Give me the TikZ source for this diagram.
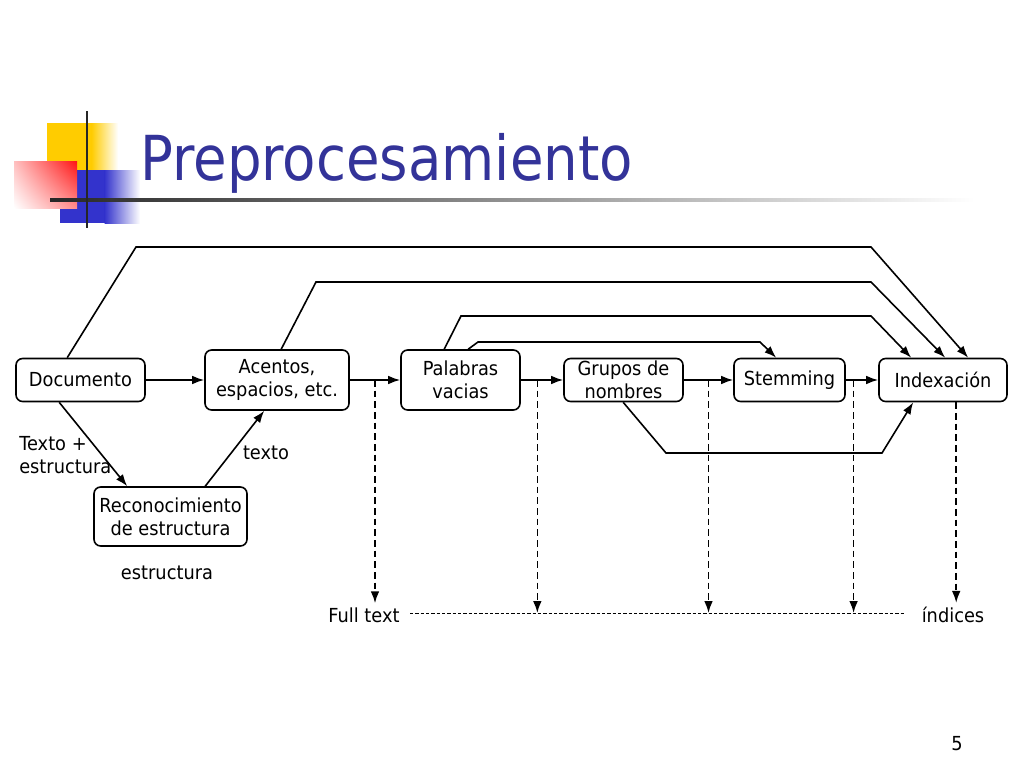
\documentclass[tikz,border=0pt]{standalone}
\usepackage{fontspec}
\setmainfont[FakeStretch=0.92]{DejaVu Sans}
\newfontfamily\titlefont[FakeStretch=0.88]{DejaVu Sans}
\usetikzlibrary{arrows.meta,calc,shadings}
\definecolor{titleblue}{RGB}{51,51,153}
\definecolor{logoyellow}{RGB}{255,204,0}
\definecolor{logoblue}{RGB}{51,51,204}
\definecolor{logored}{RGB}{255,20,20}
\begin{document}
\begin{tikzpicture}[x=0.75pt,y=-0.75pt,
  box/.style={draw,rounded corners=5pt,line width=1.2pt,align=center,
    font=\fontsize{14.5}{17}\selectfont,inner sep=0pt},
  conn/.style={line width=1.2pt,-{Latex[length=9pt,width=6.5pt]}},
  dashconn/.style={line width=1.2pt,dash pattern=on 5pt off 3pt,-{Latex[length=9pt,width=6.5pt]}},
  dotline/.style={line width=0.75pt,dash pattern=on 2.5pt off 1.5pt},
  lbl/.style={font=\fontsize{14.5}{17}\selectfont,align=left,inner sep=0pt}
]
\useasboundingbox (0,0) rectangle (1024,768);
\fill[white] (0,0) rectangle (1024,768);

% logo
\fill[logoyellow] (47,123) rectangle (92,170);
\shade[left color=logoyellow,right color=white] (91.5,123) rectangle (118,170);
\fill[logoblue] (60,170) rectangle (105,223);
\shade[left color=logoblue,right color=white] (104.5,170) rectangle (140,223);
\shade[upper left=red!25,upper right=logored,lower left=white,lower right=red!45] (14,161) rectangle (77,208);
\shade[left color=black!85,right color=white] (50,198.5) rectangle (975,201.5);
\draw[line width=2.2pt,black!85] (87,111) -- (87,228);

% title
\node[anchor=base west,font=\titlefont\fontsize{46.5}{50}\selectfont,text=titleblue,inner sep=0pt] (title) at (140,180) {Preprocesamiento};

% boxes
\node[box,minimum width=96.75pt,minimum height=32.25pt] (doc) at (80.5,380) {Documento};
\node[box,minimum width=108pt,minimum height=45pt] (acen) at (277,380) {Acentos,\\espacios, etc.};
\node[box,minimum width=89.25pt,minimum height=45pt] (pal) at (460.5,380) {Palabras\\vacias};
\node[box,minimum width=89.25pt,minimum height=32.25pt] (grup) at (623.5,380) {Grupos de\\nombres};
\node[box,minimum width=83.25pt,minimum height=32.25pt] (stem) at (789.5,380) {Stemming};
\node[box,minimum width=96pt,minimum height=32.25pt] (idx) at (943,380) {Indexación};
\node[box,minimum width=114.75pt,minimum height=44.25pt] (rec) at (170.5,516.5) {Reconocimiento\\de estructura};

% main chain
\draw[conn] (doc.east) -- (acen.west);
\draw[conn] (acen.east) -- (pal.west);
\draw[conn] (pal.east) -- (grup.west);
\draw[conn] (grup.east) -- (stem.west);
\draw[conn] (stem.east) -- (idx.west);

% structure branch
\draw[conn] ($(doc.south west)+(44,0)$) -- ($(rec.north west)+(34,0)$);
\draw[conn] ($(rec.north west)+(112,0)$) -- ($(acen.south west)+(60,0)$);

% bypass arcs
\draw[conn] ($(doc.north west)+(52,0)$) -- (136,247) -- (871,247) -- ($(idx.north west)+(90,0)$);
\draw[conn] ($(acen.north west)+(77,0)$) -- (316,282) -- (871,282) -- ($(idx.north west)+(67,0)$);
\draw[conn] ($(pal.north west)+(44,0)$) -- (461,316) -- (871,316) -- ($(idx.north west)+(33,0)$);
\draw[conn] ($(pal.north west)+(68,0)$) -- (478,342) -- (760,342) -- ($(stem.north west)+(43,0)$);
\draw[conn] ($(grup.south west)+(60,0)$) -- (666,453) -- (882,453) -- ($(idx.south west)+(35,0)$);

% labels
\node[lbl,anchor=west] (lts) at (19,455) {Texto +\\estructura};
\node[lbl] (ltx) at (266,453) {texto};
\node[lbl] (les) at (167,573) {estructura};

% outputs
\node[lbl] (full) at (364,615) {Full text};
\node[lbl] (ind) at (953,615) {índices};
\coordinate (dl) at (410,613);
\coordinate (dr) at (905,613);
\draw[dotline] (dl) -- (dr);

\coordinate (b1) at ($(acen.east)!0.5!(pal.west)$);
\coordinate (b2) at ($(pal.east)!0.39!(grup.west)$);
\coordinate (b3) at ($(grup.east)!0.5!(stem.west)$);
\coordinate (b4) at ($(stem.east)!0.24!(idx.west)$);
\coordinate (b5) at ($(idx.south west)+(78,0)$);
\draw[dashconn] (b1) -- ($(b1 |- full.north)+(0,-4)$);
\draw[dashconn] (b2) -- (b2 |- dl);
\draw[dashconn] (b3) -- (b3 |- dl);
\draw[dashconn] (b4) -- (b4 |- dl);
\draw[dashconn] (b5) -- ($(b5 |- ind.north)+(0,-4)$);

% page number
\node[lbl] (pg) at (957,744) {5};
\end{tikzpicture}
\end{document}
